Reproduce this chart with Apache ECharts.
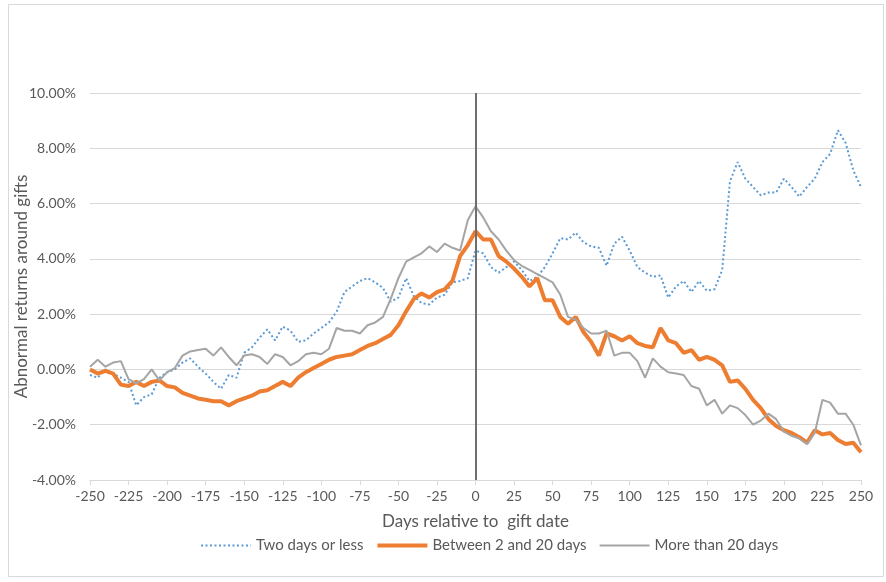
<!DOCTYPE html>
<html>
<head>
<meta charset="utf-8">
<script src="https://cdn.jsdelivr.net/npm/echarts@6/dist/echarts.min.js"></script>
<style>
  html, body { margin: 0; padding: 0; background: #ffffff; }
  #chart { width: 886px; height: 582px; }
</style>
</head>
<body>
<div id="chart"></div>
<script>
// days relative to gift date (sampled every 5 days)
var days = [
  -250, -245, -240, -235, -230, -225, -220, -215, -210, -205,
  -200, -195, -190, -185, -180, -175, -170, -165, -160, -155,
  -150, -145, -140, -135, -130, -125, -120, -115, -110, -105,
  -100, -95, -90, -85, -80, -75, -70, -65, -60, -55,
  -50, -45, -40, -35, -30, -25, -20, -15, -10, -5,
  0, 5, 10, 15, 20, 25, 30, 35, 40, 45,
  50, 55, 60, 65, 70, 75, 80, 85, 90, 95,
  100, 105, 110, 115, 120, 125, 130, 135, 140, 145,
  150, 155, 160, 165, 170, 175, 180, 185, 190, 195,
  200, 205, 210, 215, 220, 225, 230, 235, 240, 245,
  250
];

// abnormal returns, in percent
var twoDaysOrLess = [
  -0.2, -0.3, 0.0, -0.15, -0.3, -0.45, -1.3, -1.0, -0.9, -0.3,
  -0.1, 0.0, 0.25, 0.4, 0.1, -0.15, -0.45, -0.7, -0.2, -0.3,
  0.6, 0.8, 1.15, 1.45, 1.05, 1.55, 1.4, 1.0, 1.05, 1.3,
  1.5, 1.7, 2.1, 2.8, 3.0, 3.2, 3.3, 3.15, 2.95, 2.45,
  2.6, 3.3, 2.65, 2.4, 2.35, 2.6, 2.7, 3.15, 3.2, 3.3,
  4.3, 4.2, 3.7, 3.5, 3.7, 3.9, 3.6, 3.2, 3.35, 3.7,
  4.2, 4.75, 4.7, 4.95, 4.6, 4.45, 4.4, 3.75, 4.55, 4.8,
  4.3, 3.7, 3.5, 3.35, 3.4, 2.6, 3.0, 3.2, 2.8, 3.2,
  2.85, 2.9, 3.6, 6.8, 7.5, 6.9, 6.6, 6.3, 6.4, 6.4,
  6.9, 6.6, 6.25, 6.6, 6.9, 7.5, 7.8, 8.65, 8.2, 7.2,
  6.6
];

var between2And20 = [
  0.0, -0.15, -0.05, -0.15, -0.55, -0.6, -0.45, -0.6, -0.45, -0.4,
  -0.6, -0.65, -0.85, -0.95, -1.05, -1.1, -1.15, -1.15, -1.3, -1.15,
  -1.05, -0.95, -0.8, -0.75, -0.6, -0.45, -0.6, -0.3, -0.1, 0.05,
  0.2, 0.35, 0.45, 0.5, 0.55, 0.7, 0.85, 0.95, 1.1, 1.25,
  1.6, 2.1, 2.55, 2.75, 2.6, 2.8, 2.9, 3.2, 4.1, 4.5,
  5.0, 4.7, 4.7, 4.1, 3.9, 3.65, 3.35, 3.0, 3.3, 2.5,
  2.5, 1.9, 1.65, 1.9, 1.35, 1.0, 0.5, 1.3, 1.2, 1.05,
  1.2, 0.95, 0.85, 0.8, 1.5, 1.05, 0.95, 0.6, 0.7, 0.35,
  0.45, 0.35, 0.15, -0.45, -0.4, -0.7, -1.1, -1.4, -1.8, -2.05,
  -2.2, -2.3, -2.45, -2.65, -2.2, -2.35, -2.3, -2.55, -2.7, -2.65,
  -3.0
];

var moreThan20 = [
  0.1, 0.35, 0.1, 0.25, 0.3, -0.35, -0.5, -0.35, 0.0, -0.4,
  -0.1, 0.05, 0.5, 0.65, 0.7, 0.75, 0.5, 0.8, 0.45, 0.15,
  0.5, 0.55, 0.45, 0.2, 0.55, 0.45, 0.15, 0.3, 0.55, 0.6,
  0.55, 0.75, 1.5, 1.4, 1.4, 1.3, 1.6, 1.7, 1.9, 2.55,
  3.3, 3.9, 4.05, 4.2, 4.45, 4.25, 4.55, 4.4, 4.3, 5.4,
  5.9, 5.5, 5.0, 4.7, 4.3, 3.95, 3.75, 3.6, 3.45, 3.3,
  3.15, 2.7, 1.9, 1.8, 1.5, 1.3, 1.3, 1.4, 0.5, 0.6,
  0.6, 0.3, -0.3, 0.4, 0.1, -0.1, -0.15, -0.2, -0.6, -0.7,
  -1.3, -1.1, -1.6, -1.3, -1.4, -1.65, -2.0, -1.85, -1.6, -1.8,
  -2.25, -2.4, -2.5, -2.7, -2.3, -1.1, -1.2, -1.6, -1.6, -2.0,
  -2.75
];

var seriesNames = ['Two days or less', 'Between 2 and 20 days', 'More than 20 days'];

function pairs(values) {
  return days.map(function (d, i) { return [d, values[i]]; });
}

var textColor = '#595959';
var fontName = 'Lato, "Liberation Sans", sans-serif';

var chart = echarts.init(document.getElementById('chart'), null, { renderer: 'canvas' });

var option = {
  animation: false,
  backgroundColor: '#ffffff',
  textStyle: { fontFamily: fontName, color: textColor },
  graphic: [{
    type: 'rect',
    shape: { x: 8.5, y: 4.5, width: 875, height: 572 },
    style: { fill: 'none', stroke: '#d9d9d9', lineWidth: 1 },
    silent: true
  }],
  grid: { left: 90, right: 25, top: 93, bottom: 102, containLabel: false, outerBoundsMode: 'none' },
  legend: {
    bottom: 24,
    left: 195,
    itemWidth: 50,
    itemHeight: 12,
    itemGap: 12,
    itemStyle: { opacity: 0 },
    textStyle: { fontSize: 15, color: textColor, fontFamily: fontName },
    data: [
      { name: seriesNames[0], lineStyle: { width: 2 } },
      { name: seriesNames[1], lineStyle: { width: 4 } },
      { name: seriesNames[2], lineStyle: { width: 2 } }
    ]
  },
  xAxis: {
    type: 'value',
    min: -250,
    max: 250,
    interval: 25,
    name: 'Days relative to  gift date',
    nameLocation: 'middle',
    nameGap: 33,
    nameTextStyle: { fontSize: 17, color: textColor, fontFamily: fontName },
    axisLine: { show: true, onZero: false, lineStyle: { color: '#d9d9d9', width: 1 } },
    axisTick: { show: true, length: 5, lineStyle: { color: '#d9d9d9' } },
    axisLabel: { fontSize: 14, color: textColor, margin: 9 },
    splitLine: { show: false }
  },
  yAxis: {
    type: 'value',
    min: -4,
    max: 10,
    interval: 2,
    name: 'Abnormal returns around gifts',
    nameLocation: 'middle',
    nameGap: 60,
    nameMoveOverlap: false,
    nameTextStyle: { fontSize: 17, color: textColor, fontFamily: fontName },
    axisLine: { show: false },
    axisTick: { show: false },
    axisLabel: {
      fontSize: 14,
      color: textColor,
      margin: 14,
      formatter: function (v) { return v.toFixed(2) + '%'; }
    },
    splitLine: { show: true, lineStyle: { color: '#d9d9d9', width: 1 } }
  },
  series: [
    {
      name: seriesNames[0],
      type: 'line',
      symbol: 'none',
      data: pairs(twoDaysOrLess),
      color: '#5b9bd5',
      lineStyle: { color: '#5b9bd5', width: 2, type: [2, 2.5] },
      z: 2
    },
    {
      name: seriesNames[1],
      type: 'line',
      symbol: 'none',
      data: pairs(between2And20),
      color: '#ed7d31',
      lineStyle: { color: '#ed7d31', width: 4 },
      z: 3
    },
    {
      name: seriesNames[2],
      type: 'line',
      symbol: 'none',
      data: pairs(moreThan20),
      color: '#a5a5a5',
      lineStyle: { color: '#a5a5a5', width: 2 },
      z: 4,
      markLine: {
        silent: true,
        symbol: 'none',
        label: { show: false },
        lineStyle: { color: '#6e6e6e', width: 2, type: 'solid' },
        data: [{ xAxis: 0 }]
      }
    }
  ]
};

chart.setOption(option);
</script>
</body>
</html>
